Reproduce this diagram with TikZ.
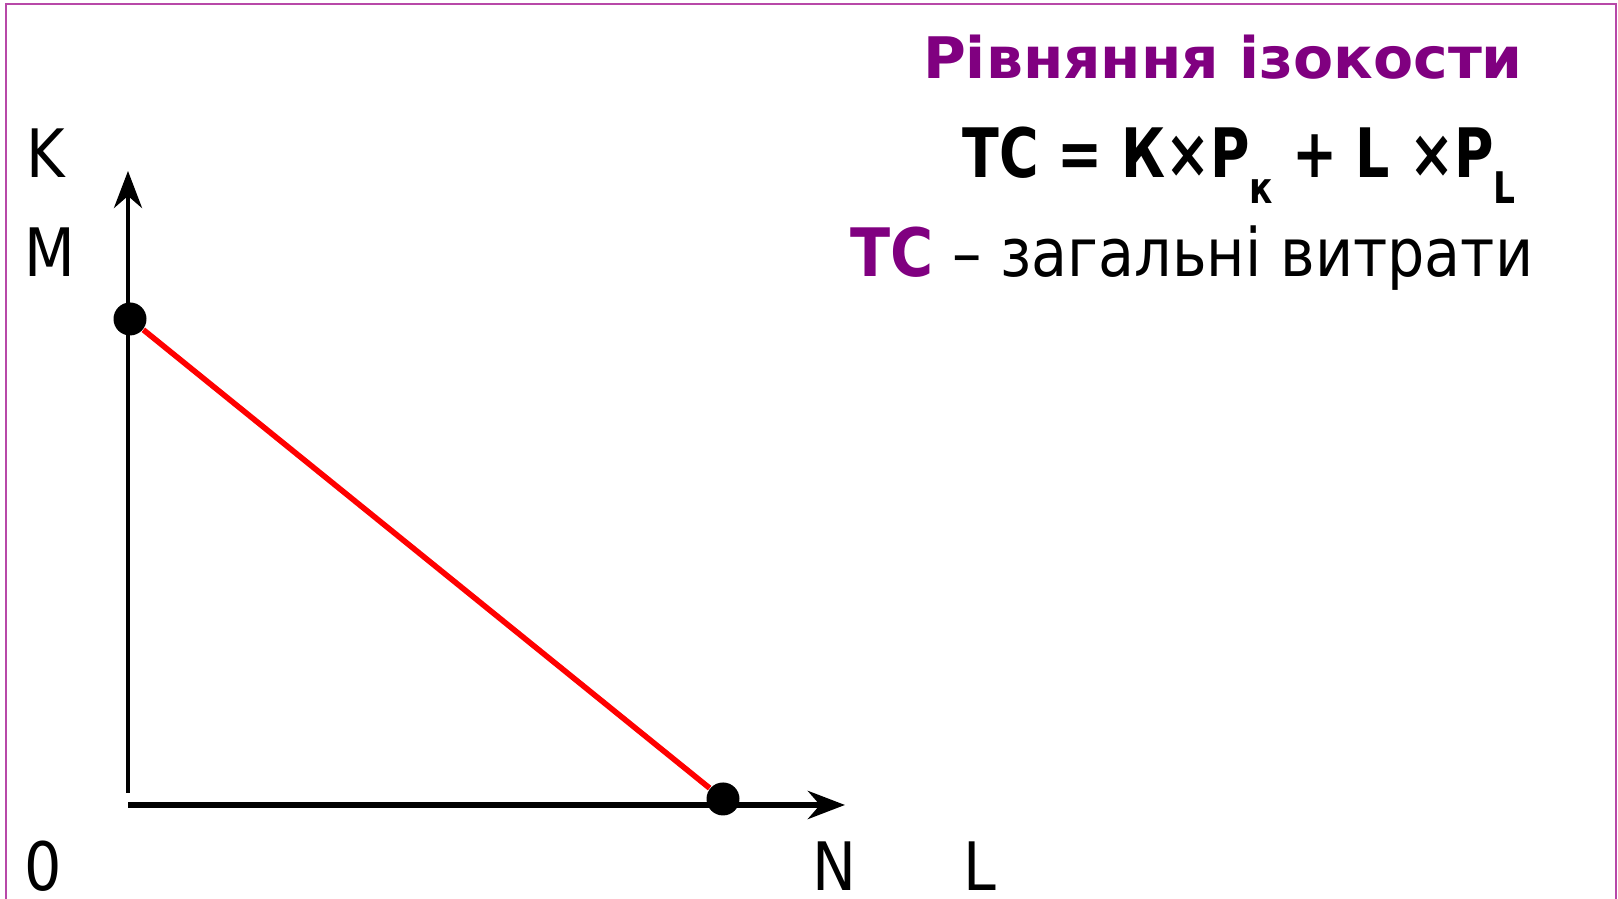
\documentclass[tikz,border=0pt]{standalone}
\usepackage{fontspec}
\setmainfont{DejaVu Sans}[FakeStretch=0.88]
\newfontfamily\titlefont{DejaVu Sans}[FakeStretch=1.02]
\newfontfamily\formulafont{DejaVu Sans}[FakeStretch=0.79]
\usetikzlibrary{arrows.meta}
\definecolor{framepink}{RGB}{184,72,168}
\definecolor{titlepurple}{RGB}{128,0,128}
\newcommand{\subidx}[1]{\raisebox{-0.26cm}{\fontsize{12.4pt}{14pt}\selectfont #1}}

\begin{document}
\begin{tikzpicture}[
  axis/.style={-{Stealth[length=3.7mm,width=2.8mm,inset=1.2mm]}},
  dot/.style={circle,fill=black,inner sep=0pt,minimum size=3.3mm},
  lbl/.style={anchor=base,inner sep=0pt,font=\fontsize{19pt}{23pt}\selectfont},
]

\useasboundingbox (0,0) rectangle (16.18,8.99);

% Frame
\draw[framepink,line width=0.6pt] (0.06,0) -- (0.06,8.95) -- (16.16,8.95) -- (16.16,0);

% Axes
\coordinate (O) at (1.28,0.94);
\coordinate (ybot) at (1.28,1.06);
\coordinate (ytop) at (1.28,7.28);
\coordinate (xend) at (8.45,0.94);
\draw[axis,line width=1.35pt] (ybot) -- (ytop);
\draw[axis,line width=1.75pt] (O) -- (xend);

% Axis labels
\node[lbl] (lK) at (0.46,7.21) {K};
\node[lbl] (lM) at (0.50,6.22) {M};
\node[lbl] (l0) at (0.43,0.08) {0};
\node[lbl] (lN) at (8.34,0.08) {N};
\node[lbl] (lL) at (9.80,0.08) {L};

% Isocost line
\node[dot] (kmax) at (1.30,5.80) {};
\node[dot] (lmax) at (7.23,1.00) {};
\draw[red,line width=1.6pt] (kmax) -- (lmax);

% Title and formula
\node[anchor=base,text=titlepurple,font=\titlefont\bfseries\fontsize{16.3pt}{20pt}\selectfont] (title) at (12.23,8.20) {Рівняння ізокости};
\node[anchor=base,font=\formulafont\bfseries\fontsize{19.4pt}{23pt}\selectfont] (formula) at (12.39,7.21) {TC = К×P\subidx{к} + L ×P\subidx{L}};
\node[anchor=base,font=\fontsize{19pt}{23pt}\selectfont] (legend) at (11.92,6.22) {\textcolor{titlepurple}{\bfseries TC} – загальні витрати};

\end{tikzpicture}
\end{document}
